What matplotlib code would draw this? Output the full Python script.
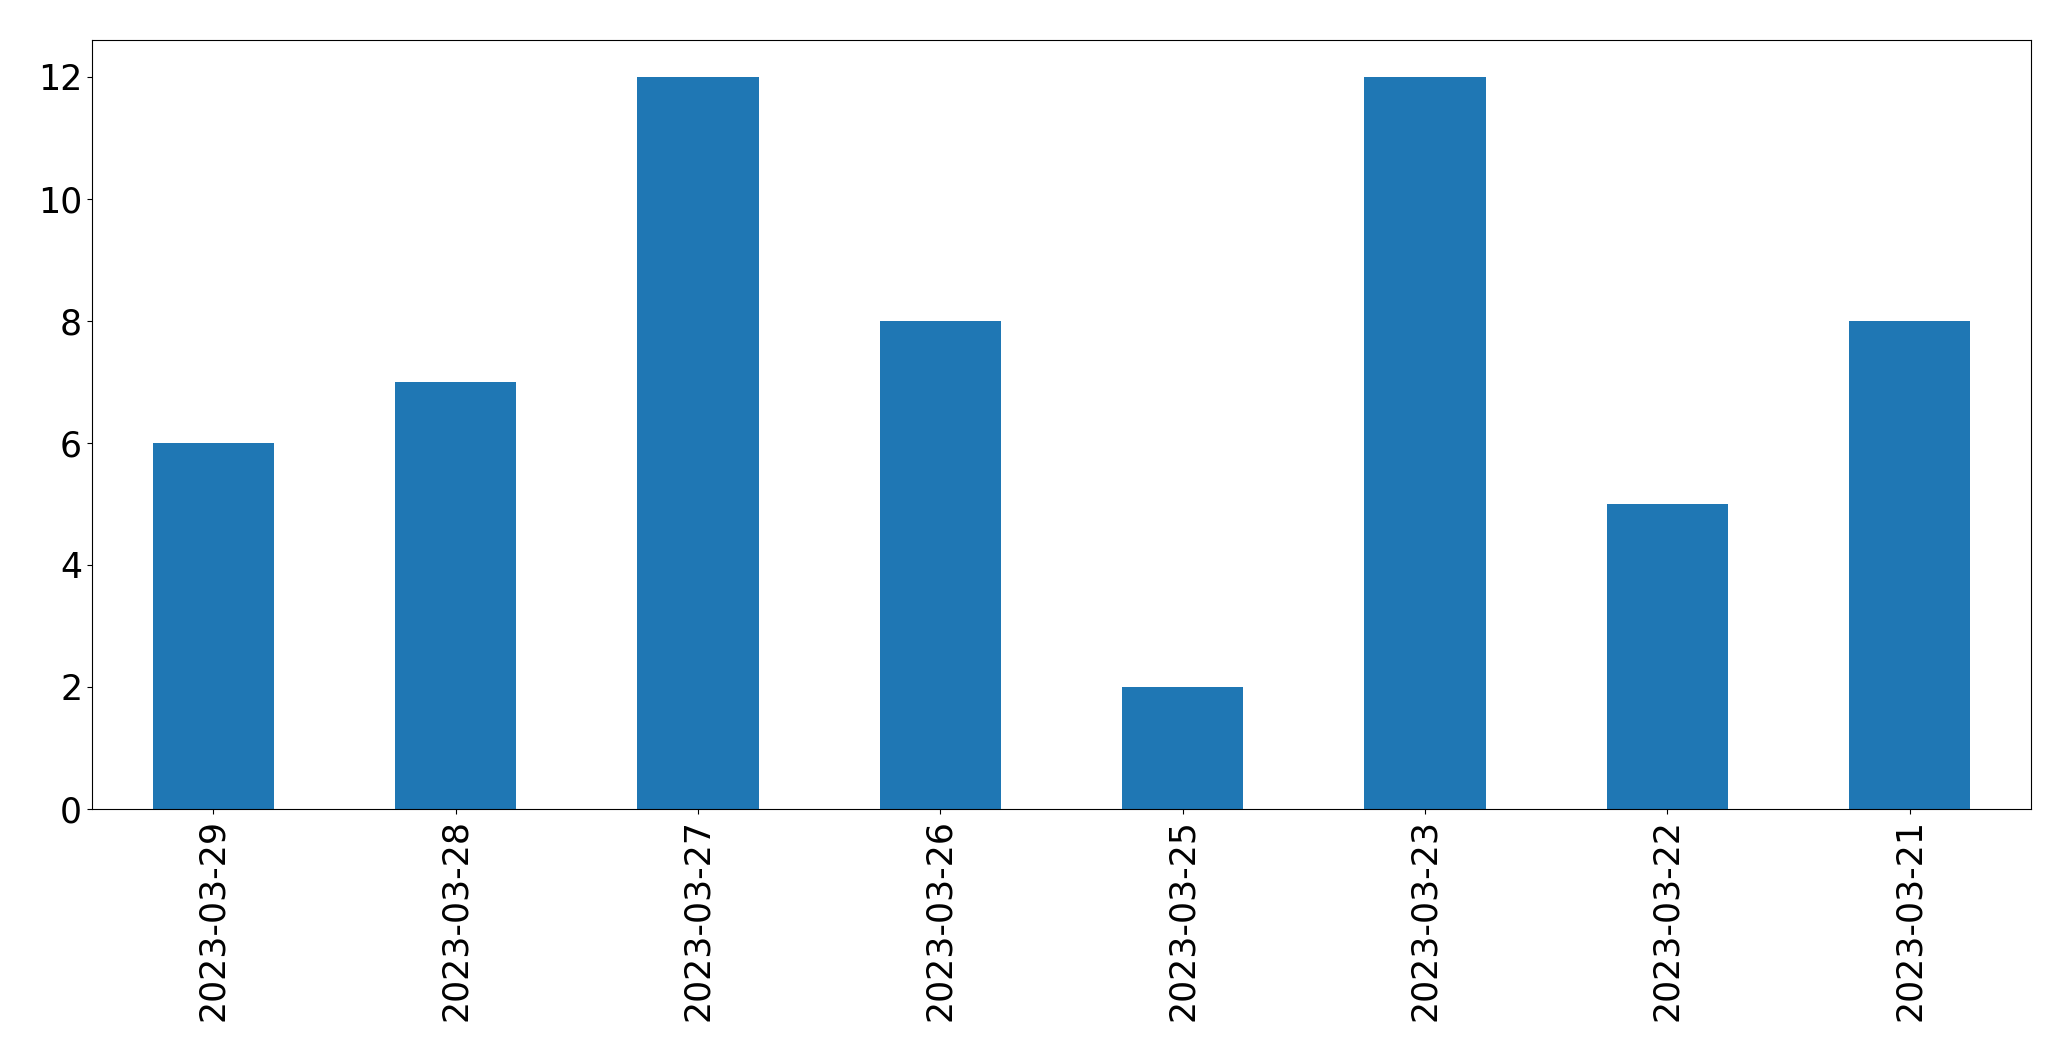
import matplotlib
matplotlib.use("Agg")
import matplotlib.pyplot as plt
import numpy as np

dates = ["2023-03-29", "2023-03-28", "2023-03-27", "2023-03-26",
         "2023-03-25", "2023-03-23", "2023-03-22", "2023-03-21"]
counts = [6, 7, 12, 8, 2, 12, 5, 8]

fig = plt.figure(figsize=(20.71, 10.61), dpi=100)
ax = fig.add_axes([0.0444, 0.2375, 0.9363, 0.7245])
x = np.arange(len(dates))
ax.bar(x, counts, width=0.5, color="#1f77b4")
ax.set_xlim(-0.5, len(dates) - 0.5)
ax.set_ylim(0, 12.6)
ax.set_xticks(x)
ax.set_xticklabels(dates, rotation=90, fontsize=25)
ax.tick_params(axis="y", labelsize=25)
fig.savefig("out.png", dpi=100)
